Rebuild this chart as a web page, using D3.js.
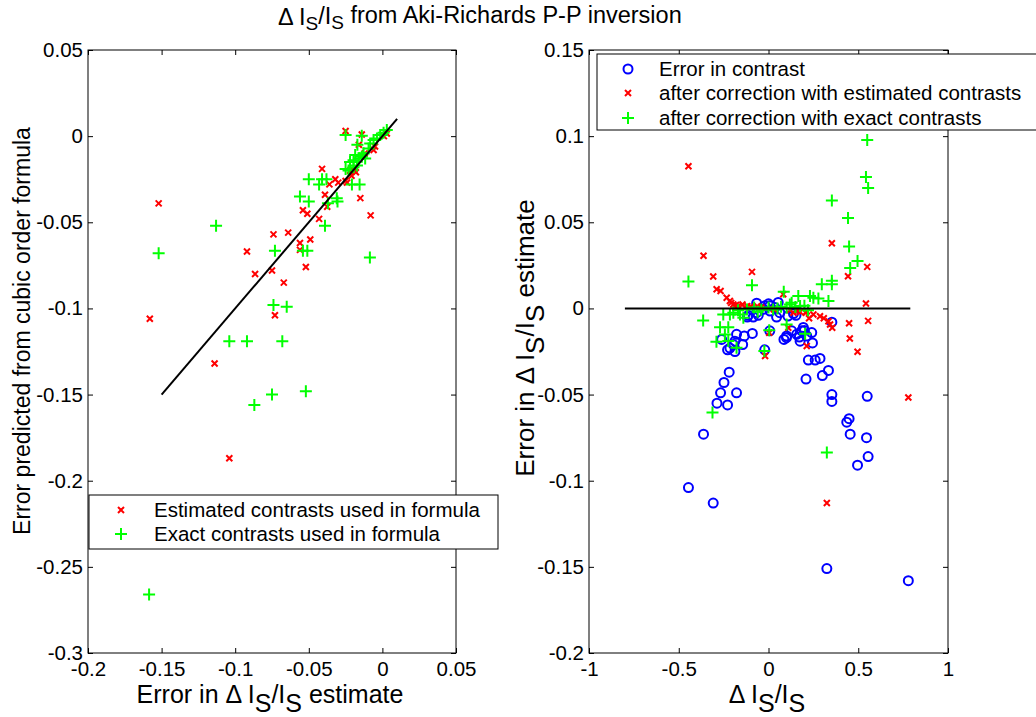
<!DOCTYPE html>
<html>
<head>
<meta charset="utf-8">
<script src="https://cdn.jsdelivr.net/npm/d3@7"></script>
<style>
  body { margin: 0; background: #fff; }
  svg { display: block; font-family: "Liberation Sans", Arial, sans-serif; }
  .axis text { font-size: 20.5px; fill: #000; }
  .axis line { stroke: #000; }
</style>
</head>
<body>
<svg id="fig" width="1036" height="717"></svg>
<script>
// left panel: predicted error vs. actual error
var leftEstimated = [[-0.152,-0.039],[-0.158,-0.106],[-0.025,0.003],[-0.014,0.001],[-0.041,-0.019],[-0.032,-0.025],
  [-0.030,-0.027],[-0.036,-0.028],[-0.039,-0.034],[-0.015,-0.036],[-0.0375,-0.041],[-0.008,-0.046],[-0.054,-0.043],
  [-0.051,-0.045],[-0.043,-0.048],[-0.074,-0.057],[-0.064,-0.056],[-0.049,-0.060],[-0.056,-0.062],[-0.056,-0.066],
  [-0.092,-0.067],[-0.0865,-0.080],[-0.075,-0.078],[-0.052,-0.076],[-0.067,-0.085],[-0.073,-0.104],[-0.016,-0.005],
  [-0.018,-0.021],[-0.021,-0.023],[-0.024,-0.027],[-0.019,-0.020],[-0.014,-0.0115],[-0.012,-0.010],[-0.006,-0.008],
  [-0.005,-0.006],[0.001,0],[0.003,0.0015],[-0.025,-0.026],[-0.022,-0.020],[-0.114,-0.132],[-0.104,-0.187]];
var leftExact = [[-0.074,-0.098],[-0.065,-0.099],[-0.104,-0.119],[-0.092,-0.119],[-0.068,-0.119],[-0.075,-0.150],
  [-0.087,-0.156],[-0.052,-0.148],[-0.1585,-0.266],[-0.113,-0.052],[-0.152,-0.068],[-0.073,-0.0665],[-0.054,-0.0665],
  [-0.051,-0.0665],[-0.0085,-0.0705],[-0.039,-0.052],[-0.050,-0.025],[-0.043,-0.028],[-0.041,-0.025],[-0.038,-0.025],
  [-0.056,-0.035],[-0.050,-0.038],[-0.037,-0.039],[-0.031,-0.036],[-0.0305,-0.038],[-0.025,0.0006],[-0.014,0.0002],
  [-0.017,-0.005],[-0.025,-0.019],[-0.022,-0.015],[-0.0196,-0.014],[-0.016,-0.013],[-0.014,-0.012],[-0.0117,-0.013],
  [-0.0207,-0.028],[-0.0155,-0.028],[-0.0196,-0.018],[-0.0173,-0.017],[-0.0083,-0.0043],[-0.006,-0.0023],
  [-0.0037,-0.0014],[-0.0015,0.0006],[0.0008,0.002],[0.003,0.0035],[-0.0094,-0.0072],[-0.0128,-0.010],
  [-0.0185,-0.011],[-0.023,-0.020]];
var leftLine = [[-0.15,-0.15],[0.01,0.01]];

// right panel: error vs. contrast
var rightContrast = [[-0.446,-0.104],[-0.308,-0.113],[-0.362,-0.073],[-0.287,-0.055],[-0.267,-0.049],[-0.248,-0.043],
  [-0.219,-0.037],[-0.228,-0.056],[-0.178,-0.049],[0.325,-0.151],[0.779,-0.158],[0.55,-0.051],[0.546,-0.075],
  [0.555,-0.086],[0.496,-0.091],[0.455,-0.073],[0.436,-0.066],[0.449,-0.064],[0.353,-0.050],[0.353,-0.054],
  [0.334,-0.036],[0.30,-0.039],[0.287,-0.029],[0.26,-0.030],[0.222,-0.030],[0.209,-0.041],[0.241,-0.014],
  [0.245,-0.020],[0.176,-0.019],[0.157,-0.015],[0.129,-0.013],[0.101,-0.016],[0.086,-0.018],[0.194,-0.011],
  [0.185,-0.013],[0.213,-0.016],[0.153,-0.004],[0.139,-0.003],[0.045,-0.005],[0.007,-0.013],[-0.021,-0.024],
  [0.353,-0.008],[-0.09,-0.0145],[-0.135,-0.016],[-0.144,-0.021],[-0.178,-0.015],[-0.187,-0.019],[-0.196,-0.021],
  [-0.215,-0.023],[-0.187,-0.025],[-0.228,-0.024],[-0.261,-0.018],[-0.113,-0.004],[-0.066,-0.0025],[-0.057,-0.004],
  [-0.066,0.003],[-0.019,0.0015],[0.007,0.0015],[0.054,0.0035],[0.036,0.0005],[-0.028,-0.0005],[-0.085,-0.005],
  [0.0,0.0027],[0.009,-0.0015],[0.063,-0.0025],[-0.118,-0.005],[0.108,-0.0044],[0.2,-0.0128],[0.1,-0.017],
  [0.172,-0.0166]];
var rightEstimated = [[-0.446,0.0825],[-0.362,0.0306],[-0.308,0.0185],[-0.289,0.0111],[-0.267,0.0101],[-0.092,0.0212],
  [-0.233,0.0062],[-0.215,0.0043],[-0.196,0.0023],[-0.168,0.0014],[-0.131,0.0004],[0.353,0.0378],[0.55,0.0241],
  [0.443,0.0187],[0.543,0.0029],[0.555,-0.0072],[0.449,-0.0086],[0.453,-0.0175],[0.334,-0.0074],[0.287,-0.0045],
  [0.25,-0.0035],[0.213,-0.0016],[0.176,-0.002],[0.139,-0.0025],[0.082,0.0082],[0.779,-0.0517],[0.325,-0.1129],
  [0.496,-0.0251],[0.355,-0.0112],[0.213,-0.0218],[-0.019,-0.0276],[0.004,-0.0141],[0.343,-0.0093],[0.11,-0.0112],
  [-0.145,0.0023],[-0.118,0.0013],[-0.063,0.0013],[0.163,-0.0015],[0.208,-0.0025],[0.308,-0.0057],[0.226,-0.0057],
  [-0.208,0.0032],[-0.181,0.002],[-0.1,0.001],[-0.04,0.0005],[0.03,-0.0005],[0.12,-0.001]];
var rightExact = [[0.55,0.0977],[0.543,0.0763],[0.555,0.0699],[0.353,0.0627],[0.443,0.0525],[0.449,0.036],
  [0.496,0.0276],[0.455,0.0234],[0.353,0.016],[0.297,0.014],[0.353,0.014],[-0.446,0.0156],[-0.092,0.0134],
  [0.085,0.0097],[0.166,0.0072],[0.231,0.0072],[0.25,0.0062],[0.278,0.0058],[0.334,0.0043],[0.129,0.0033],
  [-0.364,-0.007],[-0.27,-0.0109],[-0.224,-0.0109],[-0.252,-0.0035],[-0.196,-0.0025],[-0.159,-0.0035],[-0.12,-0.0006],
  [-0.312,-0.0604],[0.325,-0.0836],[-0.29,-0.0193],[-0.243,-0.0151],[-0.178,-0.0228],[-0.224,-0.0189],
  [-0.023,-0.0247],[0.004,-0.0127],[0.101,-0.0093],[0.204,-0.0147],[-0.215,-0.0035],[-0.14,-0.0054],[0.026,-0.0006],
  [0.119,0.0023],[0.176,0.0014],[0.101,0.0004],[-0.17,-0.001],[-0.08,0.0005],[-0.04,-0.0008],[0.0,0.0005],
  [0.05,0.0],[0.15,0.0008],[0.2,0.0015],[0.22,-0.001],[-0.06,-0.002],[0.07,0.001]];
var rightLine = [[-0.8,0],[0.79,0]];

var leftXTicks = [-0.2,-0.15,-0.1,-0.05,0,0.05];
var leftYTicks = [-0.3,-0.25,-0.2,-0.15,-0.1,-0.05,0,0.05];
var rightXTicks = [-1,-0.5,0,0.5,1];
var rightYTicks = [-0.2,-0.15,-0.1,-0.05,0,0.05,0.1,0.15];

var legendLeft = ["Estimated contrasts used in formula", "Exact contrasts used in formula"];
var legendRight = ["Error in contrast", "after correction with estimated contrasts", "after correction with exact contrasts"];

var svg = d3.select("#fig");
var fmt = function(d) { return String(+d.toFixed(2)); };

var xL = d3.scaleLinear().domain([-0.2, 0.05]).range([88, 456]);
var yL = d3.scaleLinear().domain([-0.3, 0.05]).range([653, 50]);
var xR = d3.scaleLinear().domain([-1, 1]).range([589, 948]);
var yR = d3.scaleLinear().domain([-0.2, 0.15]).range([653, 50]);

function drawAxes(x, y, xt, yt) {
    var x0 = x.range()[0], x1 = x.range()[1], y0 = y.range()[0], y1 = y.range()[1];
    svg.append("g").attr("class", "axis").attr("transform", "translate(0," + y0 + ")")
        .call(d3.axisBottom(x).tickValues(xt).tickFormat(fmt).tickSize(-5).tickSizeOuter(0).tickPadding(8));
    svg.append("g").attr("class", "axis").attr("transform", "translate(0," + y1 + ")")
        .call(d3.axisTop(x).tickValues(xt).tickFormat("").tickSize(-5).tickSizeOuter(0));
    svg.append("g").attr("class", "axis").attr("transform", "translate(" + x0 + ",0)")
        .call(d3.axisLeft(y).tickValues(yt).tickFormat(fmt).tickSize(-5).tickSizeOuter(0).tickPadding(5));
    svg.append("g").attr("class", "axis").attr("transform", "translate(" + x1 + ",0)")
        .call(d3.axisRight(y).tickValues(yt).tickFormat("").tickSize(-5).tickSizeOuter(0));
    svg.selectAll(".axis .domain").remove();
    svg.append("rect").attr("x", x0).attr("y", y1).attr("width", x1 - x0).attr("height", y0 - y1)
        .attr("fill", "none").attr("stroke", "#000").attr("stroke-width", 1);
}

var crossPath = "M-3,-3L3,3M-3,3L3,-3";
var plusPath = "M-6,0H6M0,-6V6";

function drawMarks(data, x, y, kind) {
    var g = svg.append("g");
    if (kind == "o") {
        g.selectAll("circle").data(data).enter().append("circle")
            .attr("cx", function(d) { return x(d[0]); })
            .attr("cy", function(d) { return y(d[1]); })
            .attr("r", 4.5).attr("fill", "none").attr("stroke", "#0000ff").attr("stroke-width", 2);
    } else {
        g.selectAll("path").data(data).enter().append("path")
            .attr("d", kind == "x" ? crossPath : plusPath)
            .attr("transform", function(d) { return "translate(" + x(d[0]) + "," + y(d[1]) + ")"; })
            .attr("fill", "none").attr("stroke", kind == "x" ? "#ff0000" : "#00ff00").attr("stroke-width", 2);
    }
}

function drawLine(data, x, y) {
    svg.append("path").datum(data)
        .attr("d", d3.line().x(function(d) { return x(d[0]); }).y(function(d) { return y(d[1]); }))
        .attr("fill", "none").attr("stroke", "#000").attr("stroke-width", 2);
}

// text with subscripted S parts: parts = [[string, isSub], ...]
function richText(sel, parts, subDy, subSize) {
    var shift = 0;
    parts.forEach(function(p) {
        var t = sel.append("tspan").text(p[0]);
        if (p[1]) {
            t.attr("dy", subDy).style("font-size", subSize);
            shift = 1;
        } else if (shift) {
            t.attr("dy", "-" + subDy);
            shift = 0;
        }
    });
}

function legend(x, y, w, h, labels, kinds, markX, textX, rowY) {
    svg.append("rect").attr("x", x).attr("y", y).attr("width", w).attr("height", h)
        .attr("fill", "#fff").attr("stroke", "#000").attr("stroke-width", 1);
    labels.forEach(function(lab, i) {
        var g = svg.append("g").attr("transform", "translate(" + markX + "," + rowY[i] + ")");
        if (kinds[i] == "o") {
            g.append("circle").attr("r", 4.5).attr("fill", "none").attr("stroke", "#0000ff").attr("stroke-width", 2);
        } else {
            g.append("path").attr("d", kinds[i] == "x" ? crossPath : plusPath).attr("fill", "none")
                .attr("stroke", kinds[i] == "x" ? "#ff0000" : "#00ff00").attr("stroke-width", 2);
        }
        svg.append("text").attr("x", textX).attr("y", rowY[i]).attr("dy", "0.35em")
            .style("font-size", "20.5px").text(lab);
    });
}

// left panel
drawAxes(xL, yL, leftXTicks, leftYTicks);
drawMarks(leftEstimated, xL, yL, "x");
drawMarks(leftExact, xL, yL, "+");
drawLine(leftLine, xL, yL);
legend(89, 495, 409, 54, legendLeft, ["x", "+"], 121, 154, [510, 534]);

// right panel
drawAxes(xR, yR, rightXTicks, rightYTicks);
drawMarks(rightContrast, xR, yR, "o");
drawMarks(rightEstimated, xR, yR, "x");
drawMarks(rightExact, xR, yR, "+");
drawLine(rightLine, xR, yR);
legend(597, 54, 460, 76, legendRight, ["o", "x", "+"], 628, 659, [69, 93, 118]);

// title and labels
var title = svg.append("text").attr("x", 278).attr("y", 25).style("font-size", "23.5px");
richText(title, [["\u0394 I", 0], ["S", 1], ["/I", 0], ["S", 1], [" from Aki-Richards P-P inversion", 0]], "0.26em", "19px");

var xlabL = svg.append("text").attr("x", 270).attr("y", 703).attr("text-anchor", "middle").style("font-size", "25px");
richText(xlabL, [["Error in \u0394 I", 0], ["S", 1], ["/I", 0], ["S", 1], [" estimate", 0]], "0.34em", "25px");

var xlabR = svg.append("text").attr("x", 767).attr("y", 703).attr("text-anchor", "middle").style("font-size", "25px");
richText(xlabR, [["\u0394 I", 0], ["S", 1], ["/I", 0], ["S", 1]], "0.34em", "25px");

svg.append("text").attr("transform", "translate(30,331) rotate(-90)").attr("text-anchor", "middle")
    .style("font-size", "23px").text("Error predicted from cubic order formula");

var ylabR = svg.append("text").attr("transform", "translate(534,338) rotate(-90)").attr("text-anchor", "middle")
    .style("font-size", "26px");
richText(ylabR, [["Error in \u0394 I", 0], ["S", 1], ["/I", 0], ["S", 1], [" estimate", 0]], "0.4em", "26px");
</script>
</body>
</html>
